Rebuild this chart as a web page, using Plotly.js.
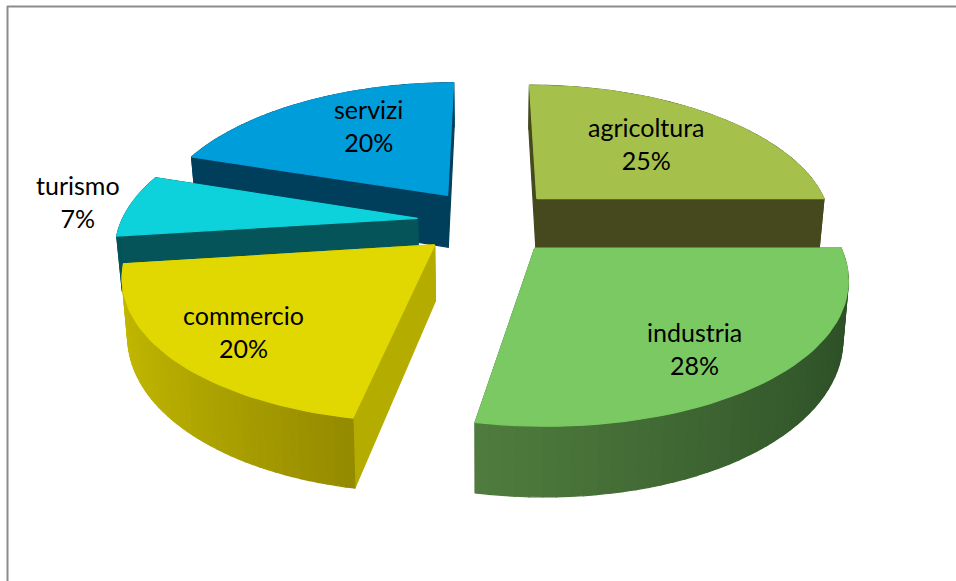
<!DOCTYPE html>
<html><head><meta charset="utf-8">
<script src="https://cdn.plot.ly/plotly-3.0.1.min.js"></script>
<style>html,body{margin:0;padding:0;background:#fff}</style></head>
<body><div id="chart" style="width:956px;height:581px"></div>
<script>
const categories = ["agricoltura","industria","commercio","turismo","servizi"];
const shares = [25,28,20,7,20];
const topColors = ["#A5C14C","#7AC962","#E0D800","#0DD2DC","#009DDB"];
const edgeColors = ["#46491E","#2F5A2A","#B5AC00","#05545A","#003F5B"];
const rimLeft = [[70,74,30],[80,125,62],[196,186,0],[5,84,90],[0,63,91]];
const rimRight = [[70,74,30],[44,78,38],[148,138,0],[5,84,90],[0,63,91]];
const labelPos = [[646,143],[694,348],[243,331],[78,201],[368,125]];

// projection of the exploded tilted disc
const cx=488, cy=221.5, R=296, S=139, KX=0.18, KY=0.165, KH=0.2, H=54, E=0.24, TAPER=0.985;
function proj(u,v,down){return [cx+(down?TAPER:1)*R*u/(1-KX*v), cy+S*v/(1-KY*v)+(down?H/(1-KH*v):0)];}
const toHex=c=>'rgb('+c.map(Math.round).join(',')+')';
function poly(pts,color){
  const p=pts.concat([pts[0]]);
  return {type:'scatter',mode:'lines',x:p.map(q=>q[0]),y:p.map(q=>q[1]),fill:'toself',fillcolor:color,
    line:{color:color,width:1.2},hoverinfo:'skip',showlegend:false};
}
const total=shares.reduce((a,b)=>a+b,0);
let acc=0;
const slices=shares.map((s,i)=>{
  const a0=acc/total*2*Math.PI; acc+=s; const a1=acc/total*2*Math.PI;
  const m=(a0+a1)/2; return {i,a0,a1,ou:E*Math.sin(m),ov:-E*Math.cos(m)};
});
const traces=[];
const order=[4,0,3,2,1];
order.forEach(idx=>{
  const sl=slices[idx], n=48, {ou,ov}=sl;
  const rim=[]; for(let j=0;j<=n;j++){const a=sl.a0+(sl.a1-sl.a0)*j/n; rim.push([ou+Math.sin(a),ov-Math.cos(a)]);}
  const apex=[ou,ov];
  const quads=[];
  const q=(p,r,col)=>quads.push({d:(p[1]+r[1])/2,pts:[proj(p[0],p[1]),proj(r[0],r[1]),proj(r[0],r[1],1),proj(p[0],p[1],1)],col});
  q(apex,rim[0],edgeColors[idx]); q(apex,rim[n],edgeColors[idx]);
  const us=rim.map(p=>p[0]), uL=Math.min(...us), uR=Math.max(...us);
  for(let j=0;j<n;j++){
    const t=((rim[j][0]+rim[j+1][0])/2-uL)/(uR-uL);
    const lo=rimLeft[idx],hi=rimRight[idx];
    q(rim[j],rim[j+1],toHex(lo.map((c,k)=>c+(hi[k]-c)*t)));
  }
  quads.sort((a,b)=>a.d-b.d).forEach(o=>traces.push(poly(o.pts,o.col)));
  traces.push(poly([apex].concat(rim).map(p=>proj(p[0],p[1])),topColors[idx]));
});
const annotations=categories.map((c,i)=>({x:labelPos[i][0],y:labelPos[i][1],xref:'x',yref:'y',showarrow:false,align:'center',
  text:c+'<br>'+shares[i]+'%',font:{family:'Lato, Carlito, sans-serif',size:25,color:'#000'}}));
const layout={width:956,height:581,margin:{l:0,r:0,t:0,b:0},paper_bgcolor:'#fff',plot_bgcolor:'#fff',showlegend:false,
  xaxis:{range:[0,956],visible:false,fixedrange:true},yaxis:{range:[581,0],visible:false,fixedrange:true},
  annotations,
  shapes:[{type:'line',xref:'x',yref:'y',x0:7,y0:6.5,x1:956,y1:6.5,line:{color:'#8C8C8C',width:2}},
          {type:'line',xref:'x',yref:'y',x0:7.5,y0:6,x1:7.5,y1:581,line:{color:'#8C8C8C',width:2}}]};
Plotly.newPlot('chart',traces,layout,{displayModeBar:false,staticPlot:true});
</script></body></html>
